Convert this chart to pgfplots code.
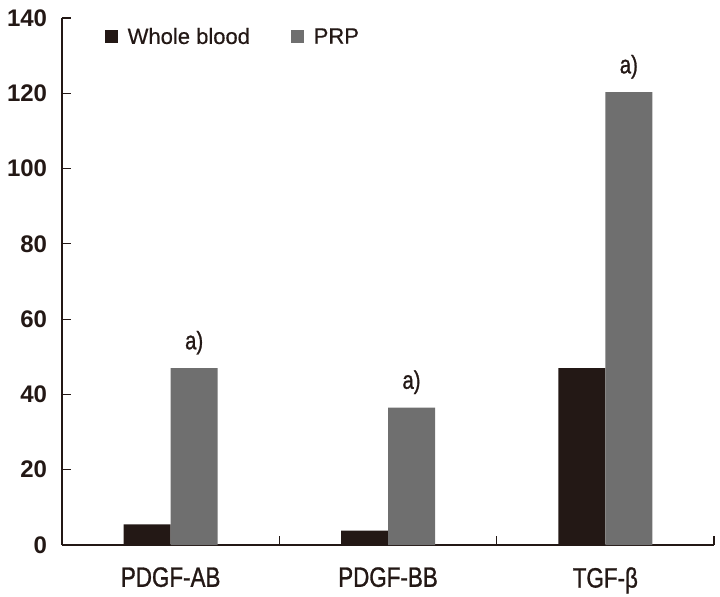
\documentclass[border=0pt]{standalone}
\usepackage{fontspec}
\setmainfont{Liberation Sans}
\newfontfamily\condfont[FakeStretch=0.8, FakeBold=1]{Liberation Sans}
\newfontfamily\legfont[FakeBold=0.5]{Liberation Sans}
\usepackage{pgfplots}
\pgfplotsset{compat=1.18}

\definecolor{wbcol}{HTML}{231815}
\definecolor{prpcol}{HTML}{6F6F6F}
\definecolor{axcol}{HTML}{231815}

% square legend marks
\pgfplotsset{sqlegend/.style={legend image code/.code={\path[##1] (0pt,-4.9pt) rectangle (9.8pt,4.9pt);}}}

\begin{document}
\begin{tikzpicture}
\begin{axis}[
    name=ax,
    scale only axis,
    width=489pt, height=395.25pt,
    ybar=0pt, bar width=35.25pt,
    xmin=-0.5, xmax=2.5,
    ymin=0, ymax=140,
    axis x line*=bottom,
    axis y line*=left,
    axis line style={axcol, line width=1pt},
    every tick/.style={axcol, line width=0.8pt},
    tick align=inside,
    major tick length=7pt,
    xtick={0.5,1.5,2.5},
    xticklabels={},
    extra x ticks={0,1,2},
    extra x tick labels={PDGF-AB,PDGF-BB,TGF-β},
    extra x tick style={major tick length=0pt},
    x tick label style={font=\condfont\fontsize{21}{24}\selectfont, text=axcol,
        anchor=north, inner sep=0pt, yshift=-16.5pt},
    ytick={0,20,...,140},
    y tick label style={font=\bfseries\fontsize{18}{20}\selectfont, text=axcol,
        anchor=east, inner sep=0pt, xshift=-11pt},
    /pgf/number format/assume math mode=true,
    legend columns=2,
    legend cell align=left,
    legend style={at={(0.066,0.964)}, anchor=west, draw=none, fill=none,
        inner sep=0pt, font=\legfont\fontsize{16.5}{20}\selectfont, text=axcol,
        /tikz/every odd column/.append style={column sep=5pt},
        /tikz/every even column/.append style={column sep=29pt}},
]
\addplot[fill=wbcol, draw=none, sqlegend] coordinates {
    (0,5.5) (1,3.8) (2,47.0)
};
\addlegendentry{Whole blood}
\addplot[fill=prpcol, draw=none, sqlegend,
    nodes near coords, point meta=explicit symbolic,
    nodes near coords style={font=\condfont\fontsize{19}{20}\selectfont, text=axcol,
        anchor=south, inner sep=0pt, yshift=10pt}] coordinates {
    (0,47.0) [a)]
    (1,36.5) [a)]
    (2,120.3) [a)]
};
\addlegendentry{PRP}
\end{axis}
\pgfresetboundingbox
\path ([shift={(-46.5pt,-38.25pt)}]ax.south west) rectangle ([shift={(4.5pt,13.5pt)}]ax.north east);
\end{tikzpicture}
\end{document}
